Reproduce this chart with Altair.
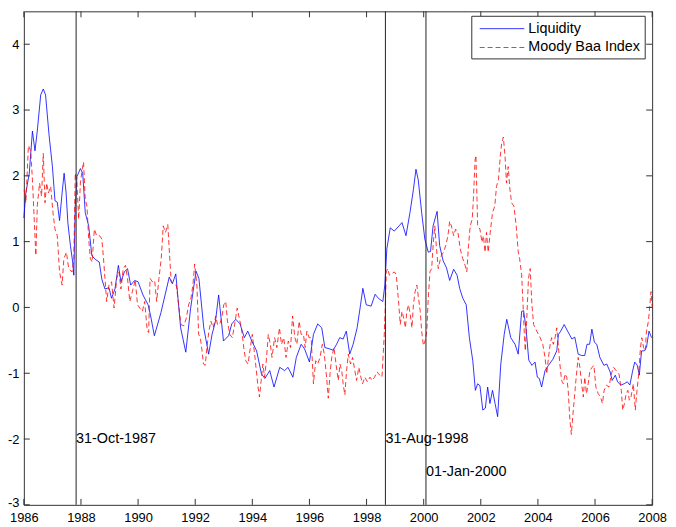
import altair as alt
import pandas as pd

# ---------------- data ----------------
liq_year = [1986.00, 1986.07, 1986.19, 1986.30, 1986.39, 1986.47, 1986.59, 1986.68, 1986.76, 1986.88,
            1987.00, 1987.09, 1987.17, 1987.25, 1987.34, 1987.41, 1987.48, 1987.54, 1987.63, 1987.71,
            1987.75, 1987.80, 1987.86, 1987.98, 1988.06, 1988.15, 1988.27, 1988.38, 1988.50, 1988.64,
            1988.73, 1988.84, 1988.98, 1989.07, 1989.19, 1989.31, 1989.40, 1989.52, 1989.63, 1989.74,
            1989.88, 1990.00, 1990.17, 1990.35, 1990.44, 1990.57, 1990.80, 1991.09, 1991.20, 1991.32,
            1991.49, 1991.67, 1991.84, 1992.03, 1992.13, 1992.30, 1992.47, 1992.59, 1992.71, 1992.82,
            1992.99, 1993.17, 1993.28, 1993.42, 1993.57, 1993.72, 1993.84, 1993.98, 1994.15, 1994.32,
            1994.44, 1994.61, 1994.76, 1994.96, 1995.13, 1995.25, 1995.42, 1995.54, 1995.71, 1995.83,
            1996.00, 1996.14, 1996.29, 1996.43, 1996.54, 1996.71, 1996.83, 1996.95, 1997.06, 1997.18,
            1997.29, 1997.41, 1997.53, 1997.67, 1997.79, 1997.87, 1997.99, 1998.16, 1998.30, 1998.41,
            1998.57, 1998.64, 1998.71, 1998.83, 1998.97, 1999.14, 1999.24, 1999.38, 1999.52, 1999.64,
            1999.73, 1999.81, 1999.93, 2000.04, 2000.16, 2000.24, 2000.33, 2000.47, 2000.56, 2000.68,
            2000.80, 2000.91, 2001.05, 2001.17, 2001.26, 2001.37, 2001.49, 2001.60, 2001.72, 2001.81,
            2001.89, 2001.97, 2002.07, 2002.16, 2002.24, 2002.32, 2002.41, 2002.50, 2002.59, 2002.70,
            2002.82, 2002.91, 2003.05, 2003.20, 2003.31, 2003.43, 2003.50, 2003.58, 2003.68, 2003.79,
            2003.90, 2003.98, 2004.05, 2004.13, 2004.25, 2004.37, 2004.52, 2004.66, 2004.72, 2004.80,
            2004.92, 2005.04, 2005.19, 2005.29, 2005.41, 2005.53, 2005.64, 2005.72, 2005.81, 2005.89,
            2005.98, 2006.06, 2006.17, 2006.31, 2006.41, 2006.53, 2006.60, 2006.71, 2006.79, 2006.90,
            2007.02, 2007.13, 2007.22, 2007.31, 2007.39, 2007.48, 2007.55, 2007.63, 2007.72, 2007.80,
            2007.89, 2007.98]
liq_value = [1.36, 1.74, 2.04, 2.68, 2.38, 2.68, 3.23, 3.32, 3.23, 2.63,
             2.14, 1.62, 1.60, 1.32, 1.74, 2.04, 1.74, 1.29, 0.94, 0.69,
             0.49, 1.54, 1.99, 2.11, 2.04, 1.44, 1.24, 0.79, 0.73, 0.69,
             0.43, 0.28, 0.30, 0.14, 0.28, 0.64, 0.39, 0.54, 0.59, 0.34,
             0.41, 0.39, 0.19, 0.04, -0.13, -0.43, -0.08, 0.46, 0.36, 0.51,
             -0.31, -0.68, -0.01, 0.55, 0.44, -0.31, -0.71, -0.41, -0.21, 0.19,
             -0.51, -0.43, -0.25, -0.18, -0.25, -0.46, -0.36, -0.51, -0.66, -1.01,
             -1.08, -0.96, -1.21, -0.91, -0.96, -0.91, -1.06, -0.76, -0.56, -0.63,
             -0.83, -0.41, -0.25, -0.31, -0.61, -0.63, -0.65, -0.56, -0.46, -0.48,
             -0.36, -0.71, -0.56, -0.31, 0.04, 0.29, 0.04, 0.02, 0.20, 0.14,
             0.09, 0.34, 0.89, 1.21, 1.16, 1.24, 1.29, 1.09, 1.44, 1.79,
             2.10, 1.94, 1.44, 1.04, 0.84, 0.85, 1.24, 1.46, 0.94, 0.71,
             0.60, 0.41, 0.58, 0.49, 0.29, 0.14, 0.04, -0.46, -0.81, -1.26,
             -1.16, -1.19, -1.56, -1.53, -1.21, -1.46, -1.26, -1.46, -1.66, -0.86,
             -0.41, -0.18, -0.46, -0.56, -0.71, -0.06, -0.05, -0.30, -0.80, -0.88,
             -0.83, -1.06, -1.08, -1.21, -0.96, -0.88, -0.79, -0.66, -0.41, -0.36,
             -0.26, -0.36, -0.48, -0.45, -0.71, -0.73, -0.73, -0.56, -0.56, -0.33,
             -0.53, -0.56, -0.76, -0.88, -0.86, -0.98, -1.11, -1.03, -1.13, -1.18,
             -1.16, -1.13, -1.18, -0.98, -0.83, -0.88, -1.03, -0.66, -0.66, -0.61,
             -0.36, -0.46]

baa_year = [1986.01, 1986.07, 1986.16, 1986.24, 1986.30, 1986.42, 1986.47, 1986.55, 1986.62, 1986.68,
            1986.74, 1986.80, 1986.86, 1986.94, 1987.02, 1987.09, 1987.17, 1987.25, 1987.34, 1987.40,
            1987.49, 1987.57, 1987.69, 1987.75, 1987.80, 1987.86, 1987.92, 1987.98, 1988.04, 1988.09,
            1988.15, 1988.21, 1988.27, 1988.33, 1988.39, 1988.47, 1988.55, 1988.65, 1988.73, 1988.79,
            1988.84, 1988.90, 1988.98, 1989.07, 1989.16, 1989.25, 1989.33, 1989.40, 1989.48, 1989.56,
            1989.63, 1989.71, 1989.80, 1989.90, 1989.98, 1990.06, 1990.15, 1990.23, 1990.32, 1990.37,
            1990.42, 1990.50, 1990.58, 1990.65, 1990.73, 1990.81, 1990.88, 1990.96, 1991.04, 1991.11,
            1991.16, 1991.25, 1991.34, 1991.42, 1991.50, 1991.60, 1991.69, 1991.77, 1991.85, 1991.92,
            1991.98, 1992.06, 1992.12, 1992.18, 1992.24, 1992.29, 1992.35, 1992.41, 1992.48, 1992.55,
            1992.63, 1992.72, 1992.78, 1992.85, 1992.93, 1993.00, 1993.07, 1993.13, 1993.21, 1993.30,
            1993.38, 1993.47, 1993.54, 1993.62, 1993.70, 1993.77, 1993.85, 1993.93, 1994.00, 1994.08,
            1994.14, 1994.20, 1994.25, 1994.31, 1994.37, 1994.43, 1994.48, 1994.56, 1994.63, 1994.69,
            1994.78, 1994.86, 1994.95, 1995.02, 1995.10, 1995.18, 1995.26, 1995.34, 1995.41, 1995.49,
            1995.56, 1995.64, 1995.71, 1995.79, 1995.85, 1995.91, 1995.99, 1996.06, 1996.14, 1996.22,
            1996.29, 1996.37, 1996.45, 1996.52, 1996.60, 1996.66, 1996.72, 1996.78, 1996.86, 1996.93,
            1997.01, 1997.07, 1997.13, 1997.18, 1997.24, 1997.30, 1997.36, 1997.44, 1997.51, 1997.59,
            1997.65, 1997.73, 1997.80, 1997.86, 1997.94, 1998.03, 1998.12, 1998.20, 1998.28, 1998.37,
            1998.46, 1998.54, 1998.62, 1998.66, 1998.69, 1998.74, 1998.80, 1998.88, 1998.97, 1999.04,
            1999.13, 1999.18, 1999.24, 1999.30, 1999.36, 1999.41, 1999.47, 1999.53, 1999.59, 1999.64,
            1999.70, 1999.76, 1999.82, 1999.88, 1999.93, 1999.99, 2000.05, 2000.11, 2000.16, 2000.22,
            2000.28, 2000.33, 2000.39, 2000.45, 2000.51, 2000.56, 2000.62, 2000.70, 2000.77, 2000.85,
            2000.91, 2000.97, 2001.05, 2001.12, 2001.20, 2001.28, 2001.37, 2001.45, 2001.51, 2001.57,
            2001.63, 2001.70, 2001.74, 2001.80, 2001.83, 2001.89, 2001.97, 2002.04, 2002.09, 2002.15,
            2002.20, 2002.26, 2002.33, 2002.41, 2002.49, 2002.55, 2002.62, 2002.68, 2002.73, 2002.79,
            2002.85, 2002.90, 2002.96, 2003.02, 2003.08, 2003.16, 2003.24, 2003.31, 2003.36, 2003.43,
            2003.47, 2003.53, 2003.56, 2003.62, 2003.67, 2003.73, 2003.79, 2003.85, 2003.96, 2004.08,
            2004.17, 2004.25, 2004.31, 2004.37, 2004.43, 2004.48, 2004.54, 2004.60, 2004.66, 2004.72,
            2004.77, 2004.83, 2004.89, 2004.95, 2005.01, 2005.06, 2005.12, 2005.17, 2005.22, 2005.28,
            2005.34, 2005.41, 2005.47, 2005.53, 2005.59, 2005.64, 2005.70, 2005.76, 2005.82, 2005.90,
            2005.96, 2006.03, 2006.11, 2006.19, 2006.26, 2006.32, 2006.40, 2006.49, 2006.57, 2006.65,
            2006.74, 2006.84, 2006.92, 2006.97, 2007.03, 2007.09, 2007.15, 2007.20, 2007.26, 2007.34,
            2007.41, 2007.47, 2007.53, 2007.59, 2007.64, 2007.70, 2007.76, 2007.80, 2007.87, 2007.92,
            2007.96, 2008.00]
baa_value = [1.79, 1.59, 2.46, 2.38, 1.94, 0.79, 1.54, 1.89, 1.69, 2.34,
             1.59, 1.89, 1.74, 1.84, 1.44, 1.19, 1.09, 0.54, 0.34, 0.74,
             0.84, 0.59, 0.54, 0.74, 2.04, 1.89, 1.34, 1.89, 2.09, 2.21,
             1.64, 1.54, 1.04, 0.74, 0.69, 1.19, 1.09, 1.09, 1.04, 0.74,
             0.44, 0.09, 0.34, 0.39, -0.01, 0.44, 0.54, 0.28, 0.59, 0.64,
             0.44, 0.09, 0.24, 0.42, 0.04, -0.01, -0.06, 0.09, -0.35, -0.38,
             0.44, 0.39, 0.41, 0.09, 0.44, 0.74, 1.24, 1.14, 1.26, 0.74,
             0.39, 0.34, 0.34, 0.04, -0.26, -0.28, -0.16, 0.04, 0.14, 0.34,
             0.66, 0.34, -0.41, -0.46, -0.66, -0.86, -0.88, -0.61, -0.36, -0.21,
             -0.31, -0.13, -0.26, -0.26, -0.16, 0.04, 0.09, -0.21, -0.41, -0.46,
             -0.26, -0.01, -0.16, -0.31, -0.61, -0.81, -0.86, -0.61, -0.41, -0.71,
             -0.96, -1.21, -1.36, -1.11, -0.86, -1.06, -0.86, -0.41, -0.56, -0.76,
             -0.46, -0.61, -0.31, -0.56, -0.46, -0.76, -0.51, -0.61, -0.13, -0.46,
             -0.56, -0.21, -0.41, -0.41, -0.61, -0.36, -0.46, -0.46, -1.16, -0.81,
             -0.86, -0.76, -0.56, -0.71, -1.06, -1.38, -1.01, -0.76, -0.61, -0.86,
             -1.11, -0.86, -0.96, -1.16, -1.33, -0.96, -0.71, -0.86, -0.76, -0.96,
             -1.11, -0.91, -1.06, -1.16, -1.06, -1.13, -1.06, -1.11, -1.06, -0.98,
             -1.03, -1.06, -0.41, 0.04, 0.54, 0.59, 0.49, 0.51, 0.54, 0.50,
             0.04, -0.26, -0.06, -0.16, -0.31, -0.06, 0.04, -0.11, -0.31, 0.04,
             0.24, 0.34, 0.14, -0.06, -0.36, -0.58, -0.51, -0.36, 0.14, 0.54,
             0.59, 0.94, 1.24, 0.89, 0.59, 0.69, 0.79, 0.84, 0.94, 1.09,
             1.31, 1.24, 1.09, 1.19, 1.14, 0.89, 0.74, 0.64, 0.54, 0.94,
             1.24, 1.34, 1.64, 2.24, 2.31, 1.24, 1.19, 0.99, 1.09, 0.84,
             1.14, 0.84, 1.14, 1.44, 1.54, 1.84, 1.94, 2.29, 2.49, 2.59,
             2.29, 1.89, 2.14, 1.79, 1.59, 1.54, 1.24, 0.85, 0.74, 0.50,
             0.14, -0.46, -0.66, -0.06, 0.44, 0.59, 0.04, -0.26, -0.36, -0.46,
             -0.56, -0.76, -1.01, -0.76, -0.56, -0.46, -0.56, -0.46, -0.31, -0.61,
             -0.86, -1.11, -1.16, -1.01, -1.06, -1.26, -1.71, -1.93, -1.66, -1.36,
             -1.06, -0.76, -0.91, -1.16, -1.36, -1.06, -1.31, -1.16, -0.96, -0.91,
             -0.88, -1.21, -1.31, -1.36, -1.46, -1.26, -1.18, -1.21, -1.01, -0.91,
             -0.96, -1.01, -1.26, -1.56, -1.46, -1.31, -1.26, -1.41, -1.36, -1.16,
             -1.56, -1.26, -1.01, -0.61, -0.46, -0.61, -0.66, -0.36, -0.21, 0.04,
             0.24, 0.01]

event_dates = [1987.83, 1998.66, 2000.08]
event_labels = ["31-Oct-1987", "31-Aug-1998", "01-Jan-2000"]
event_label_y = [-2.0, -2.0, -2.5]

x_ticks = [1986, 1988, 1990, 1992, 1994, 1996, 1998, 2000, 2002, 2004, 2006, 2008]
y_ticks = [-3, -2, -1, 0, 1, 2, 3, 4]
legend_labels = ["Liquidity", "Moody Baa Index"]

# ---------------- chart ----------------
W, H = 634, 498
FONT = "Liberation Sans"

xscale = alt.Scale(domain=[1986, 2008], nice=False, zero=False)
yscale = alt.Scale(domain=[-3, 4.5], nice=False, zero=False)

xaxis = alt.Axis(values=x_ticks, labelExpr="'' + datum.value", ticks=False, tickSize=0,
                 domain=False, grid=False, labelPadding=7, labelFontSize=13,
                 labelColor="black", labelFlush=False, labelOverlap=False, labelFont=FONT)
yaxis = alt.Axis(values=y_ticks, labelExpr="'' + datum.value", ticks=False, tickSize=0,
                 domain=False, grid=False, labelPadding=5, labelFontSize=13,
                 labelOffset={"condition": {"test": "datum.value == -3", "value": -2}, "value": 0},
                 labelColor="black", labelFlush=False, labelOverlap=False, labelFont=FONT)


def X(field):
    return alt.X(f"{field}:Q", scale=xscale, axis=xaxis, title=None)


def Y(field):
    return alt.Y(f"{field}:Q", scale=yscale, axis=yaxis, title=None)


liq_df = pd.DataFrame({"year": liq_year, "value": liq_value})
baa_df = pd.DataFrame({"year": baa_year, "value": baa_value})
ev_df = pd.DataFrame({"date": event_dates, "label": event_labels, "ly": event_label_y})
xt_df = pd.DataFrame({"t": x_ticks})
yt_df = pd.DataFrame({"t": y_ticks})
leg_df = pd.DataFrame({"label": legend_labels})

LW = 0.8
TXT = 14.5

liq = alt.Chart(liq_df).mark_line(color="#0000ff", strokeWidth=LW).encode(
    x=X("year"), y=Y("value"))
baa = alt.Chart(baa_df).mark_line(color="#ff0000", strokeWidth=LW, strokeDash=[5, 3]).encode(
    x=X("year"), y=Y("value"))

ev_rules = alt.Chart(ev_df).mark_rule(color="#222222", strokeWidth=1).encode(x=X("date"))
ev_text = alt.Chart(ev_df).mark_text(align="left", baseline="middle", fontSize=TXT,
                                     font=FONT, color="black").encode(
    x=X("date"), y=Y("ly"), text="label:N")

tick_col = "#333333"
top_ticks = alt.Chart(xt_df).mark_rule(color=tick_col, strokeWidth=1).encode(
    x=X("t"), y=alt.value(0), y2=alt.value(6))
bot_ticks = alt.Chart(xt_df).mark_rule(color=tick_col, strokeWidth=1).encode(
    x=X("t"), y=alt.value(H - 6), y2=alt.value(H))
left_ticks = alt.Chart(yt_df).mark_rule(color=tick_col, strokeWidth=1).encode(
    y=Y("t"), x=alt.value(0), x2=alt.value(6))
right_ticks = alt.Chart(yt_df).mark_rule(color=tick_col, strokeWidth=1).encode(
    y=Y("t"), x=alt.value(W - 6), x2=alt.value(W))

# legend box (top right, inside the axes)
leg_box = alt.Chart(leg_df.head(1)).mark_rect(fill="white", stroke="#333333", strokeWidth=1).encode(
    x=alt.value(452), x2=alt.value(627), y=alt.value(5), y2=alt.value(48))
leg_l1 = alt.Chart(leg_df.head(1)).mark_rule(color="#0000ff", strokeWidth=LW).encode(
    x=alt.value(460), x2=alt.value(505), y=alt.value(17.5))
leg_l2 = alt.Chart(leg_df.head(1)).mark_rule(color="#ff0000", strokeWidth=LW, strokeDash=[5, 3]).encode(
    x=alt.value(460), x2=alt.value(505), y=alt.value(36.5))
leg_t1 = alt.Chart(leg_df.iloc[[0]]).mark_text(align="left", baseline="middle", fontSize=TXT,
                                               font=FONT, color="black").encode(
    x=alt.value(509), y=alt.value(17.5), text="label:N")
leg_t2 = alt.Chart(leg_df.iloc[[1]]).mark_text(align="left", baseline="middle", fontSize=TXT,
                                               font=FONT, color="black").encode(
    x=alt.value(509), y=alt.value(36.5), text="label:N")

chart = alt.layer(
    liq, baa, ev_rules, ev_text,
    top_ticks, bot_ticks, left_ticks, right_ticks,
    leg_box, leg_l1, leg_l2, leg_t1, leg_t2,
).properties(
    width=W, height=H,
    padding={"left": 16, "top": 1, "right": 16, "bottom": 20},
    autosize=alt.AutoSizeParams(type="none"),
).configure(font=FONT).configure_view(stroke="#333333", strokeWidth=1)

chart.save("out.html", embed_options={"renderer": "svg", "actions": False})
